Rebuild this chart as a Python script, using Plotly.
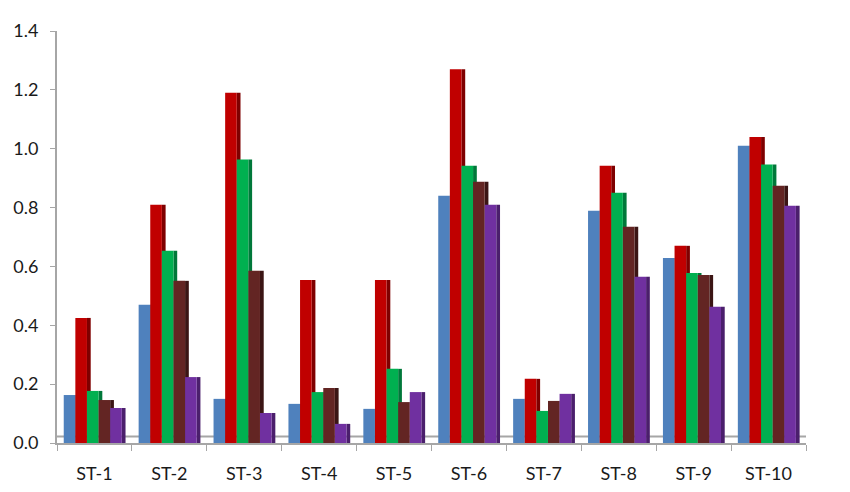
import plotly.graph_objects as go

# Categories and series values
stations = ['ST-1', 'ST-2', 'ST-3', 'ST-4', 'ST-5', 'ST-6', 'ST-7', 'ST-8', 'ST-9', 'ST-10']
s_blue = [0.163, 0.47, 0.15, 0.133, 0.116, 0.84, 0.15, 0.789, 0.629, 1.01]
s_red = [0.425, 0.81, 1.19, 0.554, 0.554, 1.27, 0.218, 0.942, 0.67, 1.04]
s_green = [0.177, 0.653, 0.963, 0.173, 0.252, 0.942, 0.109, 0.85, 0.578, 0.946]
s_brown = [0.146, 0.551, 0.585, 0.187, 0.139, 0.888, 0.143, 0.735, 0.571, 0.874]
s_purple = [0.119, 0.224, 0.102, 0.065, 0.173, 0.81, 0.167, 0.565, 0.463, 0.806]

series = [s_blue, s_red, s_green, s_brown, s_purple]
front_colors = ['#4F81BD', '#C00000', '#00B050', '#632523', '#7030A0']
side_colors = ['#385D8A', '#7F0000', '#00783A', '#3B1514', '#4B1F6C']

front_w = 0.155
side_w = 0.05
start = -0.41

fig = go.Figure()

# darker side faces first, so the next front face covers them
for i, vals in enumerate(series):
    fig.add_trace(go.Bar(
        x=stations, y=vals,
        offset=start + i * front_w + front_w, width=side_w,
        marker=dict(color=side_colors[i], line=dict(width=0)),
        showlegend=False, hoverinfo='skip'))

for i, vals in enumerate(series):
    fig.add_trace(go.Bar(
        x=stations, y=vals,
        offset=start + i * front_w, width=front_w,
        marker=dict(color=front_colors[i], line=dict(width=0)),
        showlegend=False))

# back edge of the 3D floor
fig.add_shape(type='line', xref='paper', yref='y', x0=0, x1=1.0, y0=0.022, y1=0.022,
              line=dict(color='#A6A6A6', width=2), layer='below')

# page body has an 8px margin, so margins are shifted to compensate
fig.update_layout(
    barmode='overlay',
    width=850, height=492,
    margin=dict(l=49, r=52, t=23, b=57),
    plot_bgcolor='white', paper_bgcolor='white',
    font=dict(family='Lato, Open Sans, sans-serif', size=18, color='#1a1a1a'),
    showlegend=False,
)
fig.update_xaxes(type='category', tickson='boundaries', ticks='outside', ticklen=6,
                 tickcolor='#A6A6A6', showline=True, linecolor='#A6A6A6', linewidth=2,
                 showgrid=False, tickfont=dict(size=18), ticklabelstandoff=13,
                 automargin=False, range=[-0.5, 9.5])
fig.update_yaxes(range=[0, 1.4], dtick=0.2, tickformat='.1f', ticks='outside', ticklen=5,
                 tickcolor='#A6A6A6', showline=True, linecolor='#A6A6A6', linewidth=2,
                 showgrid=False, zeroline=False, tickfont=dict(size=18),
                 ticklabelstandoff=8, automargin=False)

fig.write_html('out.html')
